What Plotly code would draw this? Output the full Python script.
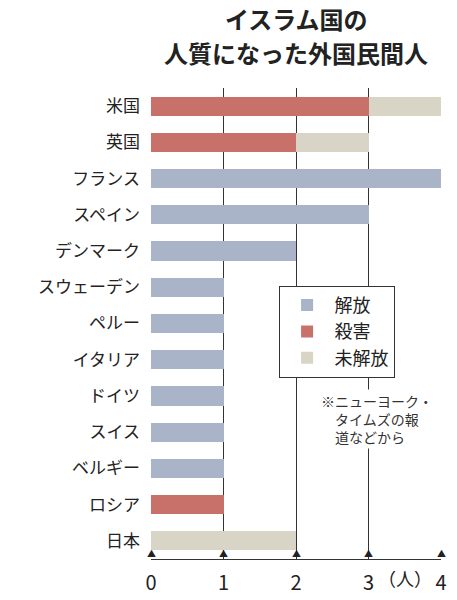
import plotly.graph_objects as go

countries = ["米国","英国","フランス","スペイン","デンマーク","スウェーデン","ペルー","イタリア","ドイツ","スイス","ベルギー","ロシア","日本"]
released = [0,0,4,3,2,1,1,1,1,1,1,0,0]
killed = [3,2,0,0,0,0,0,0,0,0,0,1,0]
unreleased = [1,1,0,0,0,0,0,0,0,0,0,0,2]
ticks = [0,1,2,3,4]

font = "Noto Sans CJK JP"
fig = go.Figure()
for name, vals, col in [("解放", released, "#a9b4c8"), ("殺害", killed, "#c8706a"), ("未解放", unreleased, "#d8d4c6")]:
    fig.add_trace(go.Bar(y=countries, x=vals, name=name, orientation="h",
                         marker=dict(color=col, line=dict(width=0)), width=0.53))

fig.update_layout(
    barmode="stack", width=457, height=600,
    margin=dict(l=143, r=24, t=80, b=36, pad=0),
    paper_bgcolor="white", plot_bgcolor="white",
    font=dict(family=font, color="#222"),
    legend=dict(x=0.44, y=0.58, xanchor="left", yanchor="top", bgcolor="white",
                bordercolor="#333", borderwidth=1, font=dict(size=18), tracegroupgap=0,
                traceorder="normal", itemwidth=45),
    showlegend=True,
)
fig.add_annotation(x=0.5, y=1, xref="paper", yref="paper", yshift=70, text="<b>イスラム国の</b>",
                   showarrow=False, xanchor="center", yanchor="middle", font=dict(size=24, color="#222"))
fig.add_annotation(x=0.5, y=1, xref="paper", yref="paper", yshift=36, text="<b>人質になった外国民間人</b>",
                   showarrow=False, xanchor="center", yanchor="middle", font=dict(size=24, color="#222"))
fig.update_xaxes(range=[0, 4], tickvals=ticks, ticktext=[str(t) for t in ticks],
                 showgrid=True, gridcolor="#333", gridwidth=1, layer="above traces",
                 zeroline=False, showline=True, linecolor="#333", ticks="",
                 tickfont=dict(size=20), ticklabelstandoff=6)
fig.update_yaxes(categoryorder="array", categoryarray=countries, autorange="reversed",
                 showgrid=False, ticks="", tickfont=dict(size=17), ticklabelstandoff=10)
for t in ticks:
    fig.add_annotation(x=t, y=0, yref="paper", text="▲", showarrow=False,
                       yanchor="bottom", yshift=-3, font=dict(size=9, color="#222"))
fig.add_annotation(x=3.5, y=0, yref="paper", text="（人）", showarrow=False,
                   yanchor="top", yshift=-4, font=dict(size=18, color="#222"))
fig.add_annotation(x=0.58, y=0.36, xref="paper", yref="paper", xanchor="left", yanchor="top",
                   text="※ニューヨーク・<br>　タイムズの報<br>　道などから", showarrow=False,
                   align="left", bgcolor="white", font=dict(size=14, color="#333"))
fig.write_html("out.html")
